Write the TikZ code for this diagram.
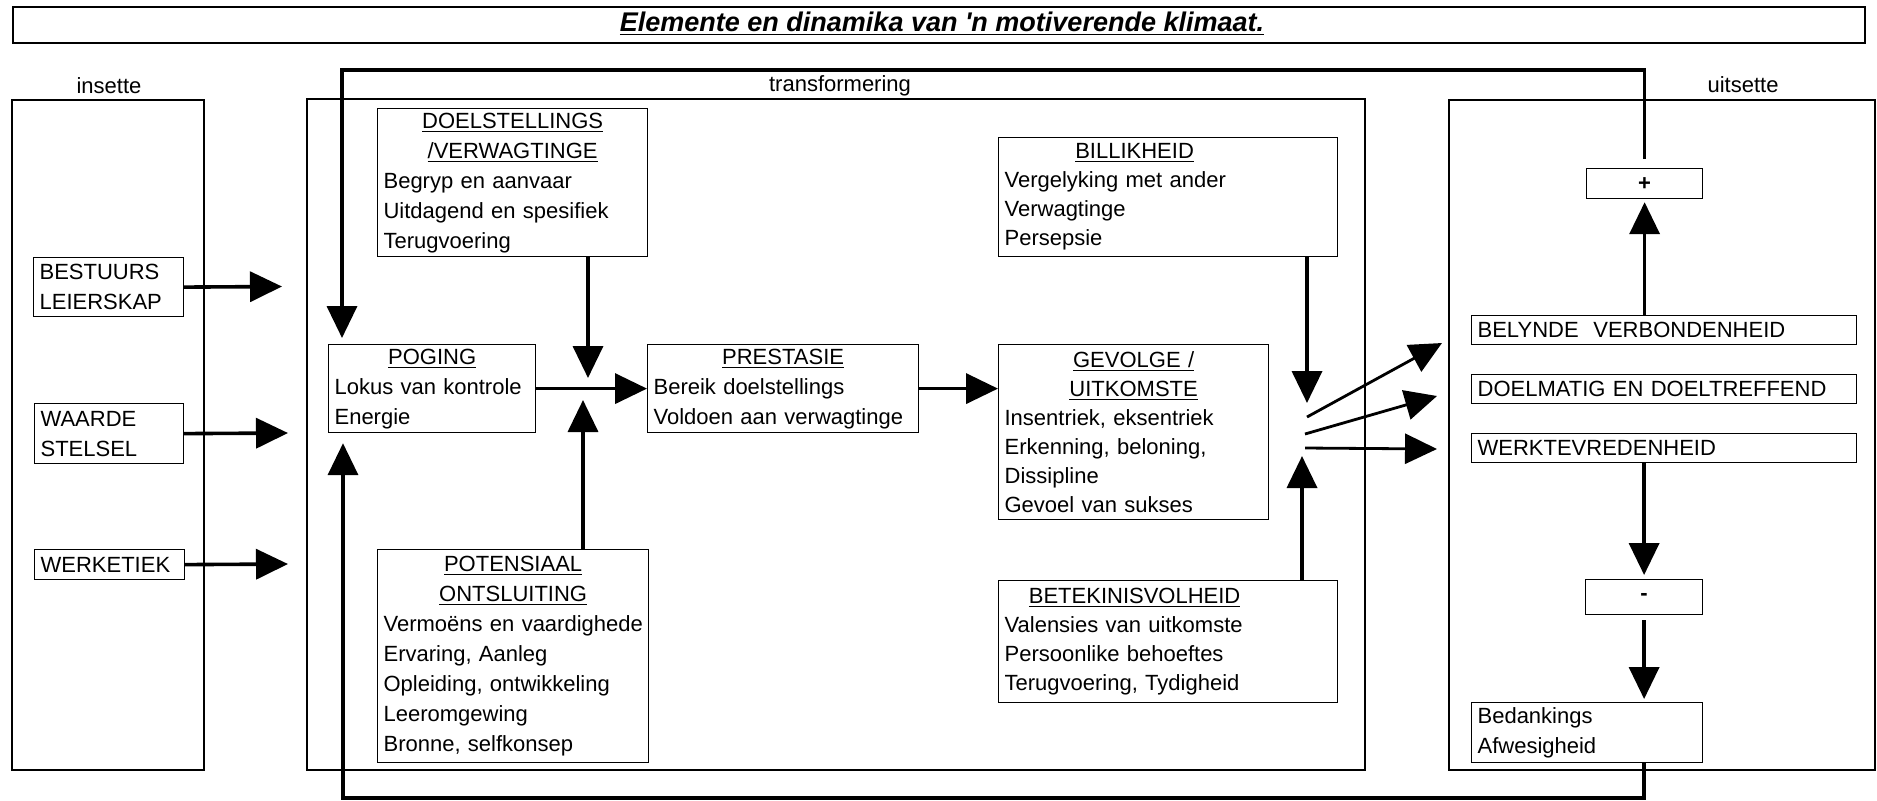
\documentclass[tikz,border=0pt]{standalone}
\usepackage{fontspec}
\setmainfont{Liberation Sans}
\usetikzlibrary{arrows.meta}
\newcommand\hd[1]{\makebox[\hsize][c]{\underline{#1}}}
\newcommand\hdw[2]{\makebox[#1][c]{\underline{#2}}}
\begin{document}
\begin{tikzpicture}[x=0.5pt,y=-0.5pt,font=\fontsize{11}{15}\selectfont,
		box/.style={draw,line width=0.6pt,inner xsep=3pt,inner ysep=0pt,align=left,anchor=north west},
		frame/.style={draw,line width=0.8pt},
		lbl/.style={inner sep=0pt},
		tight/.style={font=\fontsize{11}{14.5}\selectfont},
		sign/.style={font=\fontsize{11}{15}\selectfont\bfseries,align=center},
		flow/.style={line width=1.8pt,-{Triangle[length=16pt,width=15pt]}}]
		\useasboundingbox (0,0) rectangle (1877,800);
		\node[frame,anchor=north west,inner sep=0pt,minimum width=926pt,minimum height=18pt] (titel) at (12,6) {};
		\node[font=\fontsize{13.5}{16}\selectfont\bfseries\itshape] (opskrif) at (942,24) {\underline{Elemente en dinamika van \textquotesingle n motiverende klimaat.}};
		\draw[frame] (12,100) rectangle (204,770);
		\draw[frame] (307,99) rectangle (1365,770);
		\draw[frame] (1449,100) rectangle (1875,770);
		\node[lbl] (insette) at (109,86) {insette};
		\node[lbl] (transf) at (840,86) {transformering};
		\node[lbl] (uitsette) at (1743,85) {uitsette};
		\node[box,text width=69pt,minimum height=29.5pt] (bestuur) at (33,257) {BESTUURS\\LEIERSKAP};
		\node[box,text width=68.5pt,minimum height=30pt] (waarde) at (34,403) {WAARDE\\STELSEL};
		\node[box,text width=69pt,minimum height=15pt] (werk) at (34,549) {WERKETIEK};
		\node[box,text width=129pt,minimum height=74pt] (doel) at (377,108) {\hd{DOELSTELLINGS}\\\hd{/VERWAGTINGE}\\Begryp en aanvaar\\Uitdagend en spesifiek\\Terugvoering};
		\node[box,text width=97.5pt,minimum height=44pt] (poging) at (328,344) {\hd{POGING}\\Lokus van kontrole\\Energie};
		\node[box,text width=129.5pt,minimum height=44pt] (prest) at (647,344) {\hd{PRESTASIE}\\Bereik doelstellings\\Voldoen aan verwagtinge};
		\node[box,text width=129.5pt,minimum height=106.5pt] (poten) at (377,549) {\hd{POTENSIAAL}\\\hd{ONTSLUITING}\\\mbox{Vermoëns en vaardighede}\\Ervaring, Aanleg\\Opleiding, ontwikkeling\\Leeromgewing\\Bronne, selfkonsep};
		\node[box,tight,text width=163.5pt,minimum height=59.5pt] (billik) at (998,137) {\hdw{130pt}{BILLIKHEID}\\Vergelyking met ander\\Verwagtinge\\Persepsie};
		\node[box,tight,text width=129pt,minimum height=87.5pt] (gevolg) at (998,344) {\hd{GEVOLGE /}\\\hd{UITKOMSTE}\\Insentriek, eksentriek\\Erkenning, beloning,\\Dissipline\\Gevoel van sukses};
		\node[box,tight,text width=163.5pt,minimum height=61pt] (betek) at (998,580) {\hdw{130pt}{BETEKINISVOLHEID}\\Valensies van uitkomste\\Persoonlike behoeftes\\Terugvoering, Tydigheid};
		\node[box,sign,text width=52pt,minimum height=15pt] (plus) at (1586,168) {+};
		\node[box,text width=186.5pt,minimum height=14.5pt] (belynd) at (1471,315) {BELYNDE\ \ VERBONDENHEID};
		\node[box,text width=186.5pt,minimum height=14.5pt] (doelm) at (1471,374) {DOELMATIG EN DOELTREFFEND};
		\node[box,text width=186.5pt,minimum height=14.5pt] (tevrede) at (1471,433) {WERKTEVREDENHEID};
		\node[box,sign,text width=52.5pt,minimum height=17.5pt] (minus) at (1585,579) {-};
		\node[box,text width=109.5pt,minimum height=30pt] (bedank) at (1471,702) {Bedankings\\Afwesigheid};
		\coordinate (i1) at (282,286.5);
		\coordinate (i2) at (288,433);
		\coordinate (i3) at (288,564);
		\draw[flow] (bestuur.east) -- (i1);
		\draw[flow] (waarde.east) -- (i2);
		\draw[flow] (werk.east) -- (i3);
		\coordinate (d1) at (588,378);
		\coordinate (p1) at (583,400);
		\draw[flow] (doel.south -| d1) -- (d1);
		\draw[flow] (poten.north -| p1) -- (p1);
		\draw[flow] (poging.east) -- (prest.west);
		\draw[flow] (prest.east) -- (prest.east -| gevolg.west);
		\coordinate (b1) at (1307,403);
		\coordinate (b2) at (1302,456);
		\draw[flow] (billik.south -| b1) -- (b1);
		\draw[flow] (betek.north -| b2) -- (b2);
		\coordinate (h1) at (1307,417);
		\coordinate (h2) at (1305,434);
		\coordinate (h3) at (1305,448);
		\coordinate (o1) at (1442,343);
		\coordinate (o2) at (1437,396);
		\coordinate (o3) at (1437,449);
		\draw[flow,line width=1.4pt] (h1) -- (o1);
		\draw[flow,line width=1.4pt] (h2) -- (o2);
		\draw[flow,line width=1.4pt] (h3) -- (o3);
		\draw[flow,shorten >=1.5pt] (belynd.north -| plus.south) -- (plus.south);
		\draw[flow,shorten >=2pt] (tevrede.south -| minus.north) -- (minus.north);
		\draw[flow,shorten <=2.5pt,shorten >=1.5pt] (minus.south) -- (bedank.north -| minus.south);
		\coordinate (bo) at (342,70);
		\coordinate (onder) at (343,798);
		\draw[flow,shorten <=4.5pt,shorten >=3pt] (plus.north) |- (bo) -- (bo |- poging.north);
		\draw[flow,shorten >=5pt] (bedank.south -| minus.south) |- (onder) -- (onder |- poging.south);
	\end{tikzpicture}
\end{document}
